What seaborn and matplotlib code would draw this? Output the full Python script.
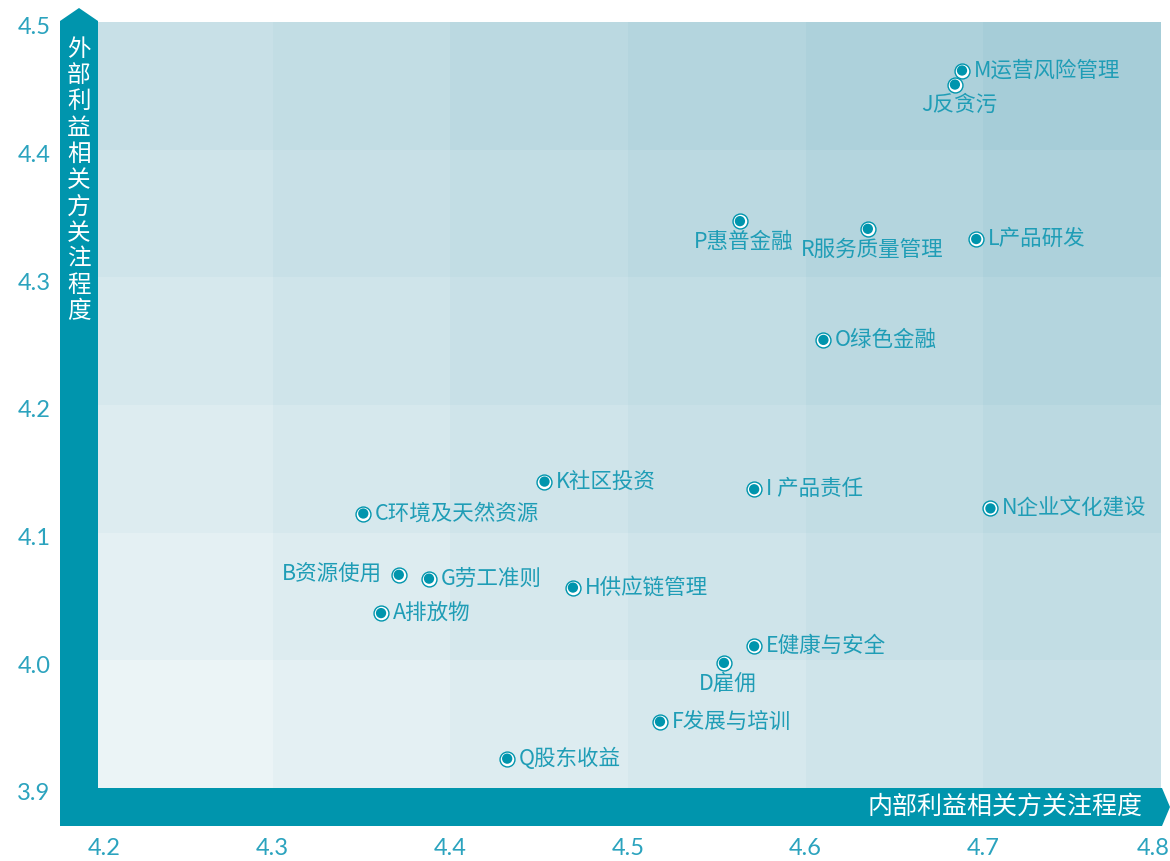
import numpy as np
import pandas as pd
import matplotlib
matplotlib.use('Agg')
import matplotlib.pyplot as plt
import matplotlib.transforms as mtransforms
from matplotlib.colors import LinearSegmentedColormap
from matplotlib.patches import Polygon
import seaborn as sns

# 议题编号 + 名称
labels = ['M运营风险管理', 'J反贪污', 'P惠普金融', 'R服务质量管理', 'L产品研发',
          'O绿色金融', 'K社区投资', 'I 产品责任', 'N企业文化建设', 'C环境及天然资源',
          'B资源使用', 'G劳工准则', 'H供应链管理', 'A排放物', 'E健康与安全',
          'D雇佣', 'F发展与培训', 'Q股东收益']
internal = [4.688, 4.684, 4.563, 4.635, 4.696, 4.610, 4.453, 4.571, 4.704, 4.351,
            4.371, 4.388, 4.469, 4.361, 4.571, 4.554, 4.518, 4.432]
external = [4.462, 4.451, 4.344, 4.338, 4.330, 4.251, 4.140, 4.134, 4.119, 4.115,
            4.067, 4.064, 4.057, 4.037, 4.011, 3.998, 3.952, 3.923]
# 标签位置: r 右侧, l 左侧, b 下方
label_pos = ['r', 'b', 'b', 'b', 'r', 'r', 'r', 'r', 'r', 'r',
             'l', 'r', 'r', 'r', 'r', 'b', 'r', 'r']

x_ticks = [4.2, 4.3, 4.4, 4.5, 4.6, 4.7, 4.8]
y_ticks = [3.9, 4.0, 4.1, 4.2, 4.3, 4.4, 4.5]
# 背景格子深浅 (自下而上)
shade = [[0, 1, 2, 3, 4, 5],
         [1, 2, 3, 4, 5, 6],
         [2, 3, 4, 5, 6, 7],
         [3, 4, 5, 6, 7, 8],
         [4, 5, 6, 7, 8, 9],
         [5, 6, 7, 8, 9, 10]]

x_title = '内部利益相关方关注程度'
y_title = '外部利益相关方关注程度'

df = pd.DataFrame({'label': labels, 'x': internal, 'y': external, 'pos': label_pos})

TEAL = '#0095ad'
TXT = '#1f9db6'
TICK = '#2ba3be'
W, H = 1170, 861

sns.set_theme(style='white')
plt.rcParams['font.family'] = ['Noto Sans CJK SC', 'DejaVu Sans']

fig = plt.figure(figsize=(W / 100, H / 100), dpi=100)
ax = fig.add_axes([95 / W, 73 / H, 1066 / W, 766 / H])

cmap = LinearSegmentedColormap.from_list('bg', ['#ebf4f6', '#a6cdd8'])
ax.pcolormesh(x_ticks, y_ticks, np.array(shade), cmap=cmap, vmin=0, vmax=10,
              shading='flat', zorder=0)

sns.scatterplot(data=df, x='x', y='y', ax=ax, s=115, color='white',
                edgecolor=TEAL, linewidth=1.0, zorder=3, legend=False)
sns.scatterplot(data=df, x='x', y='y', ax=ax, s=55, color=TEAL,
                edgecolor='none', zorder=4, legend=False)

for _, r in df.iterrows():
    if r['pos'] == 'r':
        ax.annotate(r['label'], (r['x'], r['y']), xytext=(8.5, 0),
                    textcoords='offset points', ha='left', va='center',
                    fontsize=15.5, color=TXT, zorder=5)
    elif r['pos'] == 'l':
        ax.annotate(r['label'], (r['x'], r['y']), xytext=(-12, 0),
                    textcoords='offset points', ha='right', va='center',
                    fontsize=15.5, color=TXT, zorder=5)
    else:
        ax.annotate(r['label'], (r['x'], r['y']), xytext=(3, -15),
                    textcoords='offset points', ha='center', va='center',
                    fontsize=15.5, color=TXT, zorder=5)

ax.set_xlim(4.2, 4.8)
ax.set_ylim(3.9, 4.5)
ax.set_xticks(x_ticks)
ax.set_yticks(y_ticks)
ax.set_xticklabels([f'{v:.1f}' for v in x_ticks], family=['Lato', 'DejaVu Sans'],
                   color=TICK)
ax.set_yticklabels([f'{v:.1f}' for v in y_ticks], family=['Lato', 'DejaVu Sans'],
                   color=TICK)
ax.tick_params(axis='x', length=0, pad=36, labelsize=17)
ax.tick_params(axis='y', length=0, pad=32, labelsize=17)
ax.set_xlabel('')
ax.set_ylabel('')
for s in ax.spines.values():
    s.set_visible(False)

# 首尾刻度标签稍向内移
xl = ax.get_xticklabels()
xl[0].set_transform(xl[0].get_transform() + mtransforms.ScaledTranslation(0.09, 0, fig.dpi_scale_trans))
xl[-1].set_transform(xl[-1].get_transform() + mtransforms.ScaledTranslation(-0.08, 0, fig.dpi_scale_trans))
for t in ax.get_yticklabels():
    t.set_transform(t.get_transform() + mtransforms.ScaledTranslation(0, -0.04, fig.dpi_scale_trans))


def px(x, y):
    return (x / W, 1 - y / H)


left_bar = [px(60, 826), px(60, 21), px(79, 8), px(98, 21), px(98, 826)]
bottom_bar = [px(60, 788), px(1162, 788), px(1170, 807), px(1162, 826), px(60, 826)]
for pts in (left_bar, bottom_bar):
    fig.add_artist(Polygon(pts, closed=True, transform=fig.transFigure,
                           facecolor=TEAL, edgecolor='none', zorder=2))

fig.text(1142 / W, 1 - 807 / H, x_title, ha='right', va='center',
         fontsize=18, color='white', zorder=6)
fig.text(79 / W, 1 - 38 / H, '\n'.join(y_title), ha='center', va='top',
         fontsize=17, color='white', linespacing=1.18, zorder=6)

fig.savefig('out.png', dpi=100)
